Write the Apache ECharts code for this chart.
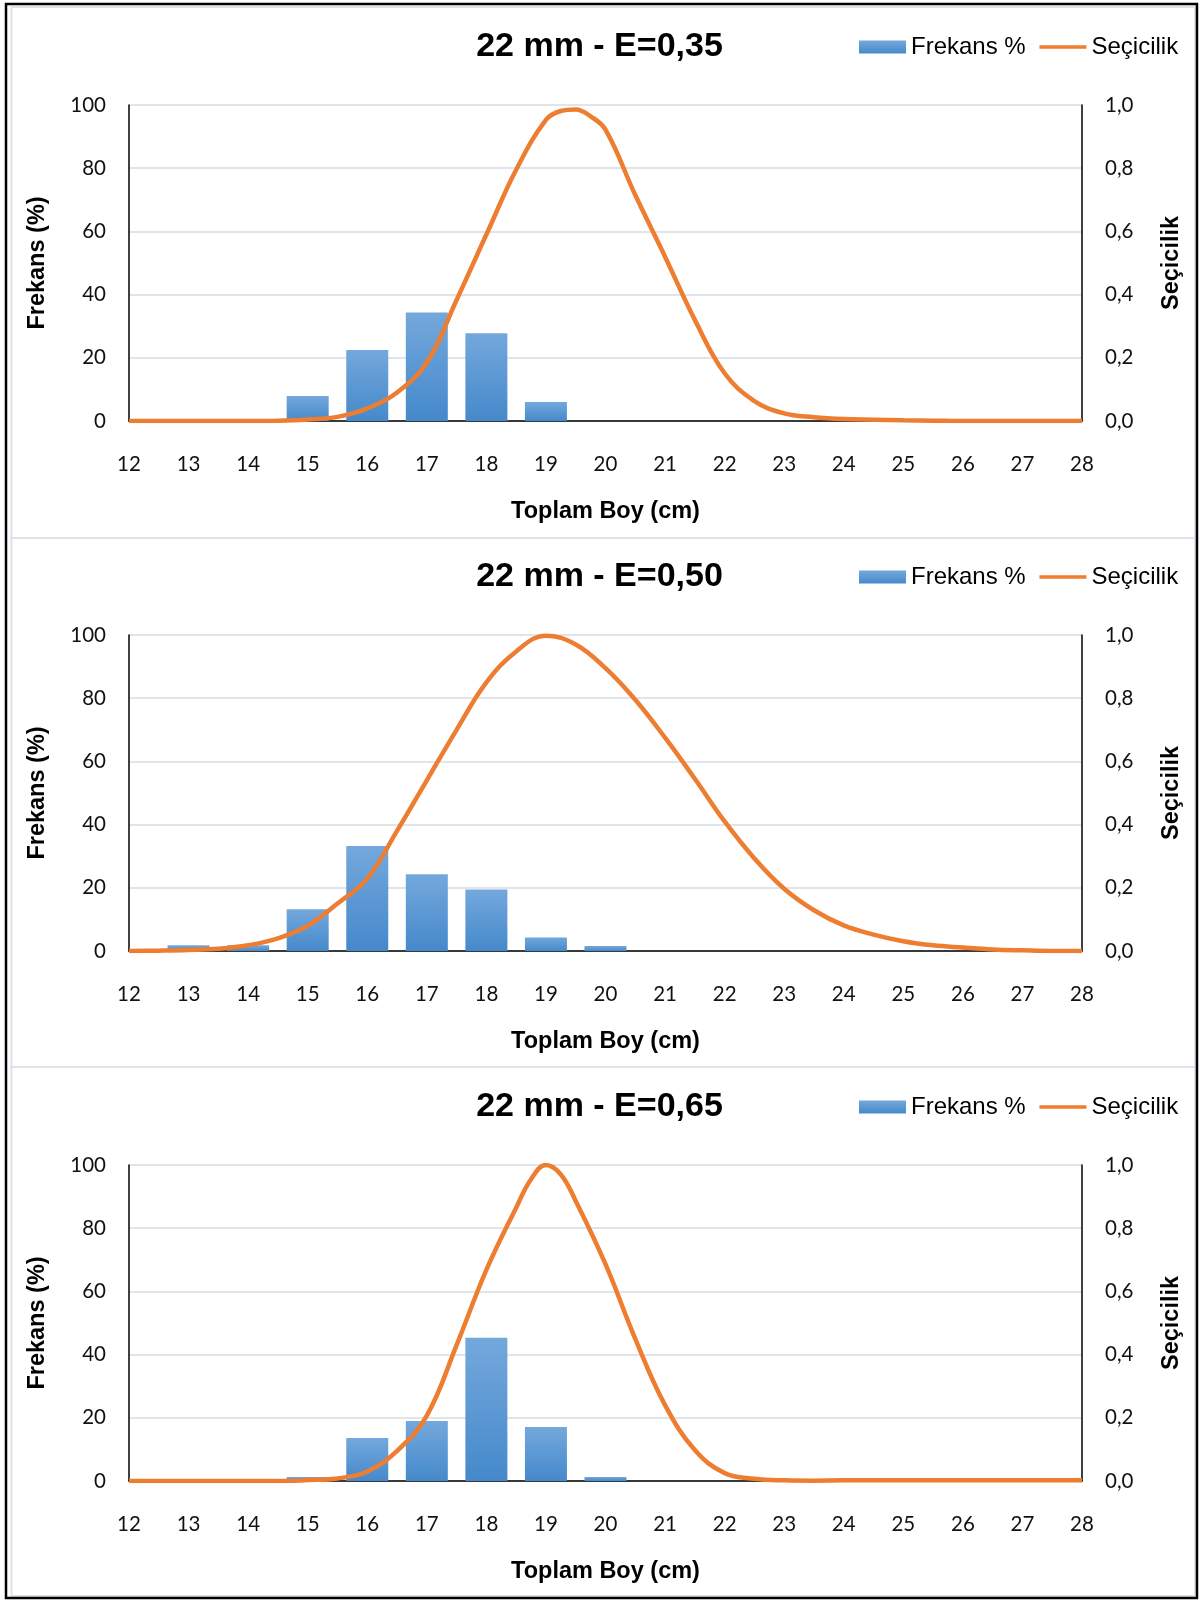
<!DOCTYPE html>
<html>
<head>
<meta charset="utf-8">
<script src="https://cdn.jsdelivr.net/npm/echarts@6/dist/echarts.min.js"></script>
<style>
  html, body { margin: 0; padding: 0; background: #fff; }
  #chart { width: 1199px; height: 1602px; }
</style>
</head>
<body>
<div id="chart"></div>
<script>
// ---- Data ----
const panelTitles = ['22 mm - E=0,35', '22 mm - E=0,50', '22 mm - E=0,65'];
const barLengths = [13, 14, 15, 16, 17, 18, 19, 20];
const freq035 = [0, 0, 7.9, 22.5, 34.3, 27.8, 6.0, 0];
const freq050 = [1.8, 1.8, 13.2, 33.2, 24.3, 19.5, 4.3, 1.6];
const freq065 = [0, 0, 1.3, 13.6, 19.0, 45.3, 17.1, 1.3];

const selLengths035 = [12, 12.5, 13, 13.5, 14, 14.5, 15, 15.5, 16, 16.5, 17, 17.5, 18, 18.5, 19, 19.25, 19.5, 19.75, 20,
                       20.5, 21, 21.5, 22, 22.5, 23, 23.5, 24, 24.5, 25, 25.5, 26, 26.5, 27, 27.5, 28];
const sel035 = [0, 0, 0, 0, 0, 0.001, 0.005, 0.013, 0.04, 0.09, 0.185, 0.383, 0.59, 0.795, 0.953, 0.981, 0.986, 0.964, 0.922,
                0.715, 0.52, 0.32, 0.151, 0.063, 0.024, 0.012, 0.006, 0.004, 0.002, 0.001, 0, 0, 0, 0, 0];

const selLengths050 = [12, 12.5, 13, 13.5, 14, 14.5, 15, 15.5, 16, 16.5, 17, 17.5, 18, 18.5, 19, 19.5, 20,
                       20.5, 21, 21.5, 22, 22.5, 23, 23.5, 24, 24.5, 25, 25.5, 26, 26.5, 27, 27.5, 28];
const sel050 = [0, 0.001, 0.003, 0.007, 0.018, 0.04, 0.08, 0.15, 0.229, 0.38, 0.54, 0.70, 0.85, 0.948, 0.998, 0.97, 0.895,
                0.795, 0.675, 0.545, 0.41, 0.293, 0.197, 0.129, 0.081, 0.052, 0.031, 0.018, 0.011, 0.005, 0.002, 0, 0];

const selLengths065 = [12, 12.5, 13, 13.5, 14, 14.5, 15, 15.5, 16, 16.5, 17, 17.5, 18, 18.5, 18.75, 19, 19.25, 19.5, 20,
                       20.5, 21, 21.5, 22, 22.5, 23, 23.5, 24, 24.5, 25, 25.5, 26, 26.5, 27, 27.5, 28];
const sel065 = [0, 0, 0, 0, 0, 0, 0.003, 0.008, 0.03, 0.095, 0.207, 0.43, 0.668, 0.865, 0.955, 1.0, 0.97, 0.886, 0.686,
                0.45, 0.24, 0.098, 0.025, 0.007, 0.002, 0.001, 0.002, 0.002, 0.002, 0.002, 0.002, 0.002, 0.002, 0.002, 0.002];

const freqSets = [freq035, freq050, freq065];
const selXSets = [selLengths035, selLengths050, selLengths065];
const selSets = [sel035, sel050, sel065];

// ---- Layout ----
const panelOffset = 530;
const gridTop0 = 105;
const gridHeight = 316;
const gridLeft = 129;
const gridRight = 117;

const tickFont = 'Lato, "Open Sans", sans-serif';
const boldFont = '"Liberation Sans", Arial, sans-serif';

const chart = echarts.init(document.getElementById('chart'), null, { renderer: 'canvas' });

const grids = [], xAxes = [], yAxes = [], series = [], titles = [], legends = [], graphics = [];

graphics.push({ type: 'rect', shape: { x: 6, y: 4, width: 1191, height: 1594 },
  style: { fill: 'none', stroke: '#000', lineWidth: 2.5 }, z: 10 });

for (let k = 0; k < 3; k++) {
  const off = k * panelOffset;
  const pTop = k === 0 ? 7 : (k === 1 ? 538 : 1067);
  const pBot = k === 0 ? 538 : (k === 1 ? 1067 : 1596);
  graphics.push({ type: 'rect', shape: { x: 11.5, y: pTop, width: 1183.5, height: pBot - pTop },
    style: { fill: 'none', stroke: '#dde3ea', lineWidth: 2 }, z: 5 });

  grids.push({ left: gridLeft, right: gridRight, top: gridTop0 + off, height: gridHeight, containLabel: false });

  titles.push({
    text: panelTitles[k], left: 'center', top: 30 + off, padding: 0,
    textStyle: { fontFamily: boldFont, fontWeight: 'bold', fontSize: 34, color: '#000' }
  });

  legends.push({
    data: [
      { name: 'Frekans %', icon: 'rect' },
      { name: 'Seçicilik', itemStyle: { opacity: 0 }, lineStyle: { width: 3.5 } }
    ],
    left: 859, top: 35 + off, padding: 0,
    itemWidth: 47, itemHeight: 13, itemGap: 12,
    textStyle: { fontFamily: boldFont, fontSize: 24, color: '#000', padding: [0, 0, 0, 0] }
  });

  xAxes.push({
    type: 'value', gridIndex: k, min: 12, max: 28, interval: 1,
    name: 'Toplam Boy (cm)', nameLocation: 'middle', nameGap: 79,
    nameTextStyle: { fontFamily: boldFont, fontWeight: 'bold', fontSize: 23.5, color: '#000' },
    axisLine: { show: true, onZero: false, lineStyle: { color: '#000', width: 1.5 } },
    axisTick: { show: false },
    splitLine: { show: false },
    axisLabel: { fontFamily: tickFont, fontSize: 20.5, color: '#111', margin: 33 }
  });

  yAxes.push({
    type: 'value', gridIndex: k, position: 'left', min: 0, max: 100, interval: 20,
    name: 'Frekans (%)', nameLocation: 'middle', nameGap: 79, nameRotate: 90,
    nameTextStyle: { fontFamily: boldFont, fontWeight: 'bold', fontSize: 23.5, color: '#000' },
    axisLine: { show: true, lineStyle: { color: '#000', width: 1.5 } },
    axisTick: { show: false },
    splitLine: { show: true, lineStyle: { color: '#e1e5ea', width: 2 } },
    axisLabel: { fontFamily: tickFont, fontSize: 20.5, color: '#111', margin: 23 }
  });
  yAxes.push({
    type: 'value', gridIndex: k, position: 'right', min: 0, max: 1, interval: 0.2,
    name: 'Seçicilik', nameLocation: 'middle', nameGap: 78, nameRotate: 90,
    nameTextStyle: { fontFamily: boldFont, fontWeight: 'bold', fontSize: 23.5, color: '#000' },
    axisLine: { show: true, lineStyle: { color: '#000', width: 1.5 } },
    axisTick: { show: false },
    splitLine: { show: false },
    axisLabel: { fontFamily: tickFont, fontSize: 20.5, color: '#111', margin: 23,
      formatter: v => v.toFixed(1).replace('.', ',') }
  });

  series.push({
    name: 'Frekans %', type: 'bar', xAxisIndex: k, yAxisIndex: 2 * k,
    barWidth: 42,
    data: barLengths.map((x, i) => [x, freqSets[k][i]]),
    itemStyle: {
      color: new echarts.graphic.LinearGradient(0, 0, 0, 1, [
        { offset: 0, color: '#74a8dc' }, { offset: 1, color: '#4589cb' }
      ])
    },
    z: 2
  });
  series.push({
    name: 'Seçicilik', type: 'line', xAxisIndex: k, yAxisIndex: 2 * k + 1,
    data: selXSets[k].map((x, i) => [x, selSets[k][i]]),
    smooth: 0.4, symbol: 'none',
    lineStyle: { color: '#ED7D31', width: 4.5 },
    itemStyle: { color: '#ED7D31' },
    z: 3
  });
}

chart.setOption({
  animation: false,
  backgroundColor: '#fff',
  title: titles,
  legend: legends,
  grid: grids,
  xAxis: xAxes,
  yAxis: yAxes,
  series: series,
  graphic: graphics
});
</script>
</body>
</html>
